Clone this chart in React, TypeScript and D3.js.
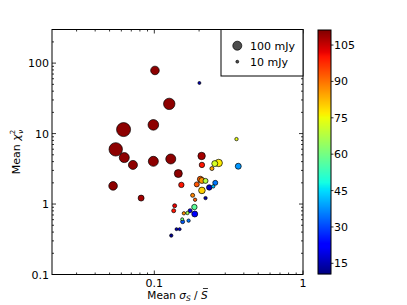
import React from 'react';
import * as d3 from 'd3';

// values
const sigmaRatio = [
  0.101, 0.126, 0.0621, 0.0985, 0.055, 0.0628, 0.0718, 0.0985, 0.129, 0.145,
  0.208, 0.209, 0.0528, 0.0815, 0.152, 0.137, 0.135, 0.13, 0.141, 0.148,
  0.155, 0.154, 0.17, 0.158, 0.167, 0.174, 0.187, 0.186, 0.181, 0.188,
  0.221, 0.193, 0.204, 0.209, 0.221, 0.209, 0.234, 0.249, 0.257, 0.244,
  0.255, 0.271, 0.357, 0.367, 0.201,
];
const chi2 = [
  78.7, 26.4, 11.4, 13.3, 5.97, 4.56, 3.59, 4.04, 4.36, 2.71,
  4.81, 3.59, 1.81, 1.215, 1.87, 0.946, 0.804, 0.357, 0.44, 0.44,
  0.562, 0.608, 0.581, 0.739, 0.746, 0.804, 0.722, 0.907, 1.33, 1.15,
  1.215, 1.9, 2.25, 2.16, 2.13, 1.56, 1.72, 1.78, 2.0, 3.19,
  3.75, 3.83, 8.35, 3.44, 52.2,
];
const fluxMJy = [
  91, 160, 242, 139, 222, 123, 100, 123, 123, 79,
  68, 36, 91, 44, 36, 20, 20, 14, 11, 11,
  20, 11, 14, 14, 14, 20, 44, 36, 20, 14,
  14, 31, 44, 44, 31, 54, 36, 14, 31, 20,
  44, 68, 14, 44, 11,
];
const colorValue = [
  110, 110, 110, 110, 110, 110, 110, 110, 110, 110,
  108, 100, 110, 108, 100, 102, 100, 12, 15, 18,
  32, 60, 35, 87, 65, 20, 22, 57, 88, 92,
  14, 93, 92, 86, 68, 80, 16, 42, 35, 85,
  72, 77, 74, 38, 15,
];

const yTicks = [0.1, 1, 10, 100];
const xTicks = [0.1, 1];
const cbTicks = [15, 30, 45, 60, 75, 90, 105];
const legendFlux = [100, 10];

const W = 407;
const H = 305;
const left = 52;
const right = 303;
const top = 29.5;
const bottom = 274.5;
const font = 'DejaVu Sans';

// matplotlib jet
const jetR = d3.scaleLinear().domain([0, 0.35, 0.66, 0.89, 1]).range([0, 0, 1, 1, 0.5]).clamp(true);
const jetG = d3.scaleLinear().domain([0, 0.125, 0.375, 0.64, 0.91, 1]).range([0, 0, 1, 1, 0, 0]).clamp(true);
const jetB = d3.scaleLinear().domain([0, 0.11, 0.34, 0.65, 1]).range([0.5, 1, 1, 0, 0]).clamp(true);
const jet = (t: number) =>
  d3.rgb(jetR(t) * 255, jetG(t) * 255, jetB(t) * 255).toString();

export default function App() {
  const x = d3.scaleLog().domain([0.0205, 1]).range([left, right]);
  const y = d3.scaleLog().domain([0.1, 300]).range([bottom, top]);
  const r = d3.scaleSqrt().domain([0, 100]).range([0, 4.5]);
  const cNorm = d3.scaleLinear().domain([10.6, 111.2]).range([0, 1]).clamp(true);

  const cbX = 318;
  const cbW = 13;
  const cbTop = 30;
  const cbBottom = 274;
  const cbY = d3.scaleLinear().domain([10.6, 111.2]).range([cbBottom, cbTop]);

  const yMinor: number[] = [];
  [0.1, 1, 10, 100].forEach((d) => {
    for (let k = 2; k <= 9; k++) if (d * k < 300) yMinor.push(d * k);
  });
  const xMinor: number[] = [];
  [0.01, 0.1].forEach((d) => {
    for (let k = 2; k <= 9; k++) if (d * k > 0.0205) xMinor.push(d * k);
  });

  const idx = d3.range(sigmaRatio.length).sort((a, b) => fluxMJy[b] - fluxMJy[a]);

  // x label pieces, S-bar gets its bar drawn as a line
  const xlabRef = React.useRef<SVGTSpanElement>(null);
  const [bar, setBar] = React.useState<[number, number] | null>(null);
  React.useEffect(() => {
    const el = xlabRef.current;
    if (!el) return;
    const b = el.getBBox();
    setBar([b.x + 2, b.x + b.width]);
  }, []);

  return (
    <svg
      width={W}
      height={H}
      style={{ position: 'absolute', left: 0, top: 0, background: '#fff' }}
      fontFamily={font}
    >
      <rect width={W} height={H} fill="#fff" />

      {idx.map((i) => (
        <circle
          key={i}
          cx={x(sigmaRatio[i])}
          cy={y(chi2[i])}
          r={r(fluxMJy[i])}
          fill={jet(cNorm(colorValue[i]))}
          stroke="#000"
          strokeWidth={0.7}
        />
      ))}

      {/* ticks */}
      <g stroke="#000" strokeWidth={0.8}>
        {yTicks.map((t) => (
          <g key={'yt' + t}>
            <line x1={left} x2={left + 4} y1={y(t)} y2={y(t)} />
            <line x1={right} x2={right - 4} y1={y(t)} y2={y(t)} />
          </g>
        ))}
        {yMinor.map((t) => (
          <g key={'ym' + t}>
            <line x1={left} x2={left + 2} y1={y(t)} y2={y(t)} />
            <line x1={right} x2={right - 2} y1={y(t)} y2={y(t)} />
          </g>
        ))}
        {xTicks.map((t) => (
          <g key={'xt' + t}>
            <line x1={x(t)} x2={x(t)} y1={bottom} y2={bottom - 4} />
            <line x1={x(t)} x2={x(t)} y1={top} y2={top + 4} />
          </g>
        ))}
        {xMinor.map((t) => (
          <g key={'xm' + t}>
            <line x1={x(t)} x2={x(t)} y1={bottom} y2={bottom - 2} />
            <line x1={x(t)} x2={x(t)} y1={top} y2={top + 2} />
          </g>
        ))}
      </g>

      <rect x={left} y={top} width={right - left} height={bottom - top} fill="none" stroke="#000" strokeWidth={1} />

      {/* tick labels */}
      <g fontSize={11} fill="#000">
        {yTicks.map((t) => (
          <text key={'yl' + t} x={left - 3} y={y(t) + 4} textAnchor="end">
            {String(t)}
          </text>
        ))}
        {xTicks.map((t) => (
          <text key={'xl' + t} x={x(t)} y={bottom + 12} textAnchor="middle">
            {String(t)}
          </text>
        ))}
      </g>

      {/* axis labels */}
      <text x={177.5} y={298.5} textAnchor="middle" fontSize={10.5}>
        Mean{' '}
        <tspan fontStyle="italic">σ</tspan>
        <tspan fontStyle="italic" fontSize={7.5} dy={2}>S</tspan>
        <tspan dy={-2}> / </tspan>
        <tspan ref={xlabRef} fontStyle="italic">S</tspan>
      </text>
      {bar && <line x1={bar[0]} x2={bar[1]} y1={288.5} y2={288.5} stroke="#000" strokeWidth={0.8} />}
      <text transform={`translate(20,${(top + bottom) / 2}) rotate(-90)`} textAnchor="middle" fontSize={11}>
        Mean <tspan fontStyle="italic">χ</tspan>
        <tspan fontSize={7} dy={-5}>2</tspan>
        <tspan fontSize={7} fontStyle="italic" dx={-4} dy={8}>ν</tspan>
      </text>

      {/* legend */}
      <rect x={221} y={top} width={right - 221} height={46.5} fill="#fff" stroke="#000" strokeWidth={1} />
      {legendFlux.map((f, i) => (
        <g key={'lg' + f}>
          <circle cx={237.3} cy={45.7 + i * 16} r={r(f)} fill="#4d4d4d" stroke="#000" strokeWidth={0.7} />
          <text x={250} y={49.7 + i * 16} fontSize={11}>
            {f} mJy
          </text>
        </g>
      ))}

      {/* colorbar */}
      {d3.range(cbTop, cbBottom).map((py) => (
        <rect
          key={'cb' + py}
          x={cbX}
          y={py}
          width={cbW}
          height={1.2}
          fill={jet(cNorm(cbY.invert(py + 0.5)))}
        />
      ))}
      <rect x={cbX} y={cbTop} width={cbW} height={cbBottom - cbTop} fill="none" stroke="#000" strokeWidth={1} />
      {cbTicks.map((t) => (
        <g key={'cbt' + t}>
          <line x1={cbX + cbW} x2={cbX + cbW + 2.5} y1={cbY(t)} y2={cbY(t)} stroke="#000" strokeWidth={0.8} />
          <text x={cbX + cbW + 3} y={cbY(t) + 4} fontSize={11}>
            {t}
          </text>
        </g>
      ))}
    </svg>
  );
}
